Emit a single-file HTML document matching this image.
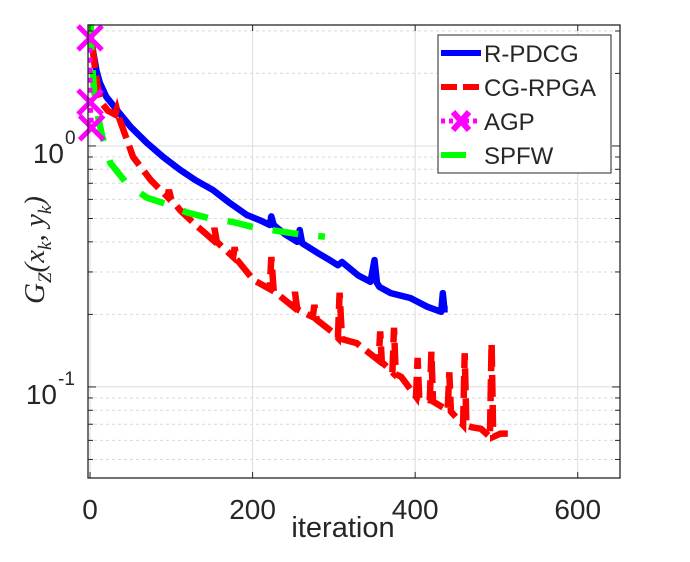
<!DOCTYPE html>
<html><head><meta charset="utf-8"><style>
body{margin:0;background:#fff;}
svg text{font-family:"Liberation Sans",sans-serif;fill:#262626;}
</style></head><body>
<svg id="chart" width="690" height="557" xmlns="http://www.w3.org/2000/svg">
<rect x="0" y="0" width="690" height="557" fill="#fff"/>
<g id="grid"></g>
<g id="series"></g>
<g id="axes"></g>
<g id="legend"></g>
</svg>
<script>
const xTicks=[0,200,400,600];
const xTickLabels=["0","200","400","600"];
const yDecades=[0,-1];
const rpdcgX=[3,8,12,20,33,50,70,90,111,130,151,172,193,210,221,223,226,240,255,258,261,280,295,305,310,330,345,350,353,356,370,394,415,432,434,436,440];
const rpdcgY=[2.55,2.05,1.83,1.6,1.41,1.2,1.03,0.9,0.795,0.72,0.657,0.58,0.517,0.49,0.47,0.51,0.47,0.43,0.4,0.448,0.395,0.36,0.336,0.32,0.33,0.29,0.273,0.336,0.27,0.26,0.245,0.234,0.215,0.205,0.245,0.21,0.21];
const cgrpgaX=[3,6,10,15,22,31,33,36,53,75,95,97,100,111,130,151,153,156,176,178,180,201,221,223,226,250,252,255,274,276,279,299,305,307,310,328,355,357,359,372,374,376,383,401,403,405,418,420,422,440,442,444,459,461,463,470,481,492,494,496,505,514];
const cgrpgaY=[2.6,2.1,1.7,1.5,1.4,1.35,1.42,1.3,0.9,0.72,0.615,0.657,0.6,0.54,0.47,0.408,0.457,0.4,0.346,0.38,0.34,0.278,0.255,0.346,0.25,0.215,0.248,0.21,0.195,0.219,0.19,0.168,0.16,0.246,0.158,0.152,0.129,0.17,0.127,0.115,0.176,0.113,0.11,0.091,0.132,0.09,0.088,0.14,0.087,0.08,0.115,0.079,0.0695,0.138,0.069,0.068,0.067,0.062,0.152,0.062,0.064,0.064];
const agpX=[0,0,2];
const agpY=[2.81,1.52,1.19];
const spfwX=[1,2,5,9,15,21,25,45,70,90,119,148,175,201,230,258,289];
const spfwY=[3.2,2.27,1.7,1.37,1.1,0.935,0.85,0.7,0.61,0.58,0.53,0.5,0.484,0.46,0.444,0.43,0.42];

const L=88,R=620,T=25,B=478;
const xMin=-2.5,xMax=652;
const yLogTop=0.502,yLogBot=-1.378;
const sx=v=>L+(v-xMin)/(xMax-xMin)*(R-L);
const sy=v=>T+(yLogTop-Math.log10(v))/(yLogTop-yLogBot)*(B-T);
const NS="http://www.w3.org/2000/svg";
function mk(tag,attrs,parent){const e=document.createElementNS(NS,tag);for(const k in attrs)e.setAttribute(k,attrs[k]);parent.appendChild(e);return e;}
const grid=document.getElementById('grid'),axes=document.getElementById('axes'),series=document.getElementById('series'),legend=document.getElementById('legend');

for(let d=-2;d<=0;d++){for(let m=2;m<=9;m++){const v=m*Math.pow(10,d);const y=sy(v);if(y<T||y>B)continue;
 const g=mk('line',{x1:L,x2:R,y1:y,y2:y,stroke:'#d9d9d9','stroke-width':1,'stroke-dasharray':'3,3'},grid);
 
 const t1=mk('line',{x1:L,x2:L+5,y1:y,y2:y,stroke:'#262626','stroke-width':1},axes);
 
 const t2=mk('line',{x1:R-5,x2:R,y1:y,y2:y,stroke:'#262626','stroke-width':1},axes);
 }}
xTicks.forEach((v,i)=>{const x=sx(v);
 const g=mk('line',{x1:x,x2:x,y1:T,y2:B,stroke:'#dcdcdc','stroke-width':1},grid);
 
 const t=mk('line',{x1:x,x2:x,y1:B,y2:B-6,stroke:'#262626'},axes);
 const t2=mk('line',{x1:x,x2:x,y1:T,y2:T+6,stroke:'#262626'},axes);
 const tx=mk('text',{x:x,y:519,'font-size':28,'text-anchor':'middle'},axes);tx.textContent=xTickLabels[i];
 });
yDecades.forEach(d=>{const y=sy(Math.pow(10,d));
 const g=mk('line',{x1:L,x2:R,y1:y,y2:y,stroke:'#dcdcdc','stroke-width':1},grid);
 
 const t=mk('line',{x1:L,x2:L+8,y1:y,y2:y,stroke:'#262626'},axes);
 const t2=mk('line',{x1:R-8,x2:R,y1:y,y2:y,stroke:'#262626'},axes);
 const ex=d<0?57:64;
 const tx=mk('text',{x:ex,y:y+17,'font-size':28,'text-anchor':'end'},axes);tx.textContent='10';
 
 const sp=mk('text',{x:ex+1,y:y-2,'font-size':19,'text-anchor':'start'},axes);sp.textContent=String(d);
 });
const box=mk('rect',{x:L,y:T,width:R-L,height:B-T,fill:'none',stroke:'#262626','stroke-width':1.3},axes);


function pts(X,Y){return X.map((v,i)=>sx(v).toFixed(1)+','+sy(Y[i]).toFixed(1)).join(' ');}
const s1=mk('polyline',{points:pts(rpdcgX,rpdcgY),fill:'none',stroke:'#0000ff','stroke-width':6.5,'stroke-linejoin':'round'},series);

const s2=mk('polyline',{points:pts(cgrpgaX,cgrpgaY),fill:'none',stroke:'#ff0000','stroke-width':6.5,'stroke-dasharray':'22,8'},series);

const s4=mk('polyline',{points:pts(spfwX,spfwY),fill:'none',stroke:'#00ff00','stroke-width':6.5,'stroke-dasharray':'26,20'},series);

const s3=mk('polyline',{points:pts(agpX,agpY),fill:'none',stroke:'#ff00ff','stroke-width':5,'stroke-dasharray':'5,5'},series);

agpX.forEach((v,i)=>{const x=sx(v),y=sy(agpY[i]);
 const m=mk('path',{d:`M${x-12},${y-12}L${x+12},${y+12}M${x-12},${y+12}L${x+12},${y-12}`,stroke:'#ff00ff','stroke-width':5,fill:'none'},series);
 });

const yl=mk('text',{x:0,y:0,transform:'translate(44,250) rotate(-90)','text-anchor':'middle','font-size':29,style:'font-family:"Liberation Serif",serif;font-style:italic'},axes);
yl.innerHTML='<tspan>G</tspan><tspan font-size="19" dy="7">Z</tspan><tspan dy="-7">(x</tspan><tspan font-size="19" dy="7">k</tspan><tspan dy="-7">, y</tspan><tspan font-size="19" dy="7">k</tspan><tspan dy="-7">)</tspan>';

const xl=mk('text',{x:343,y:537,'font-size':29,'text-anchor':'middle'},axes);xl.textContent='iteration';


const lb=mk('rect',{x:438,y:35,width:173,height:138,fill:'#fff',stroke:'#262626','stroke-width':1},legend);

const names=['R-PDCG','CG-RPGA','AGP','SPFW'];
const ly=[53,87,121,155];
names.forEach((n,i)=>{const y=ly[i];let e;
 if(i==0)e=mk('line',{x1:441,x2:481,y1:y,y2:y,stroke:'#0000ff','stroke-width':6},legend);
 if(i==1)e=mk('line',{x1:441,x2:481,y1:y,y2:y,stroke:'#ff0000','stroke-width':6,'stroke-dasharray':'16,6'},legend);
 if(i==2){e=mk('line',{x1:441,x2:481,y1:y,y2:y,stroke:'#ff00ff','stroke-width':5,'stroke-dasharray':'4,4'},legend);
  const m=mk('path',{d:`M453,${y-9}L469,${y+9}M453,${y+9}L469,${y-9}`,stroke:'#ff00ff','stroke-width':6},legend);
  }
 if(i==3)e=mk('line',{x1:441,x2:466,y1:y,y2:y,stroke:'#00ff00','stroke-width':6},legend);
 
 const t=mk('text',{x:484,y:y+9,'font-size':24,fill:'#000'},legend);t.textContent=n;
 });
</script>
</body></html>
